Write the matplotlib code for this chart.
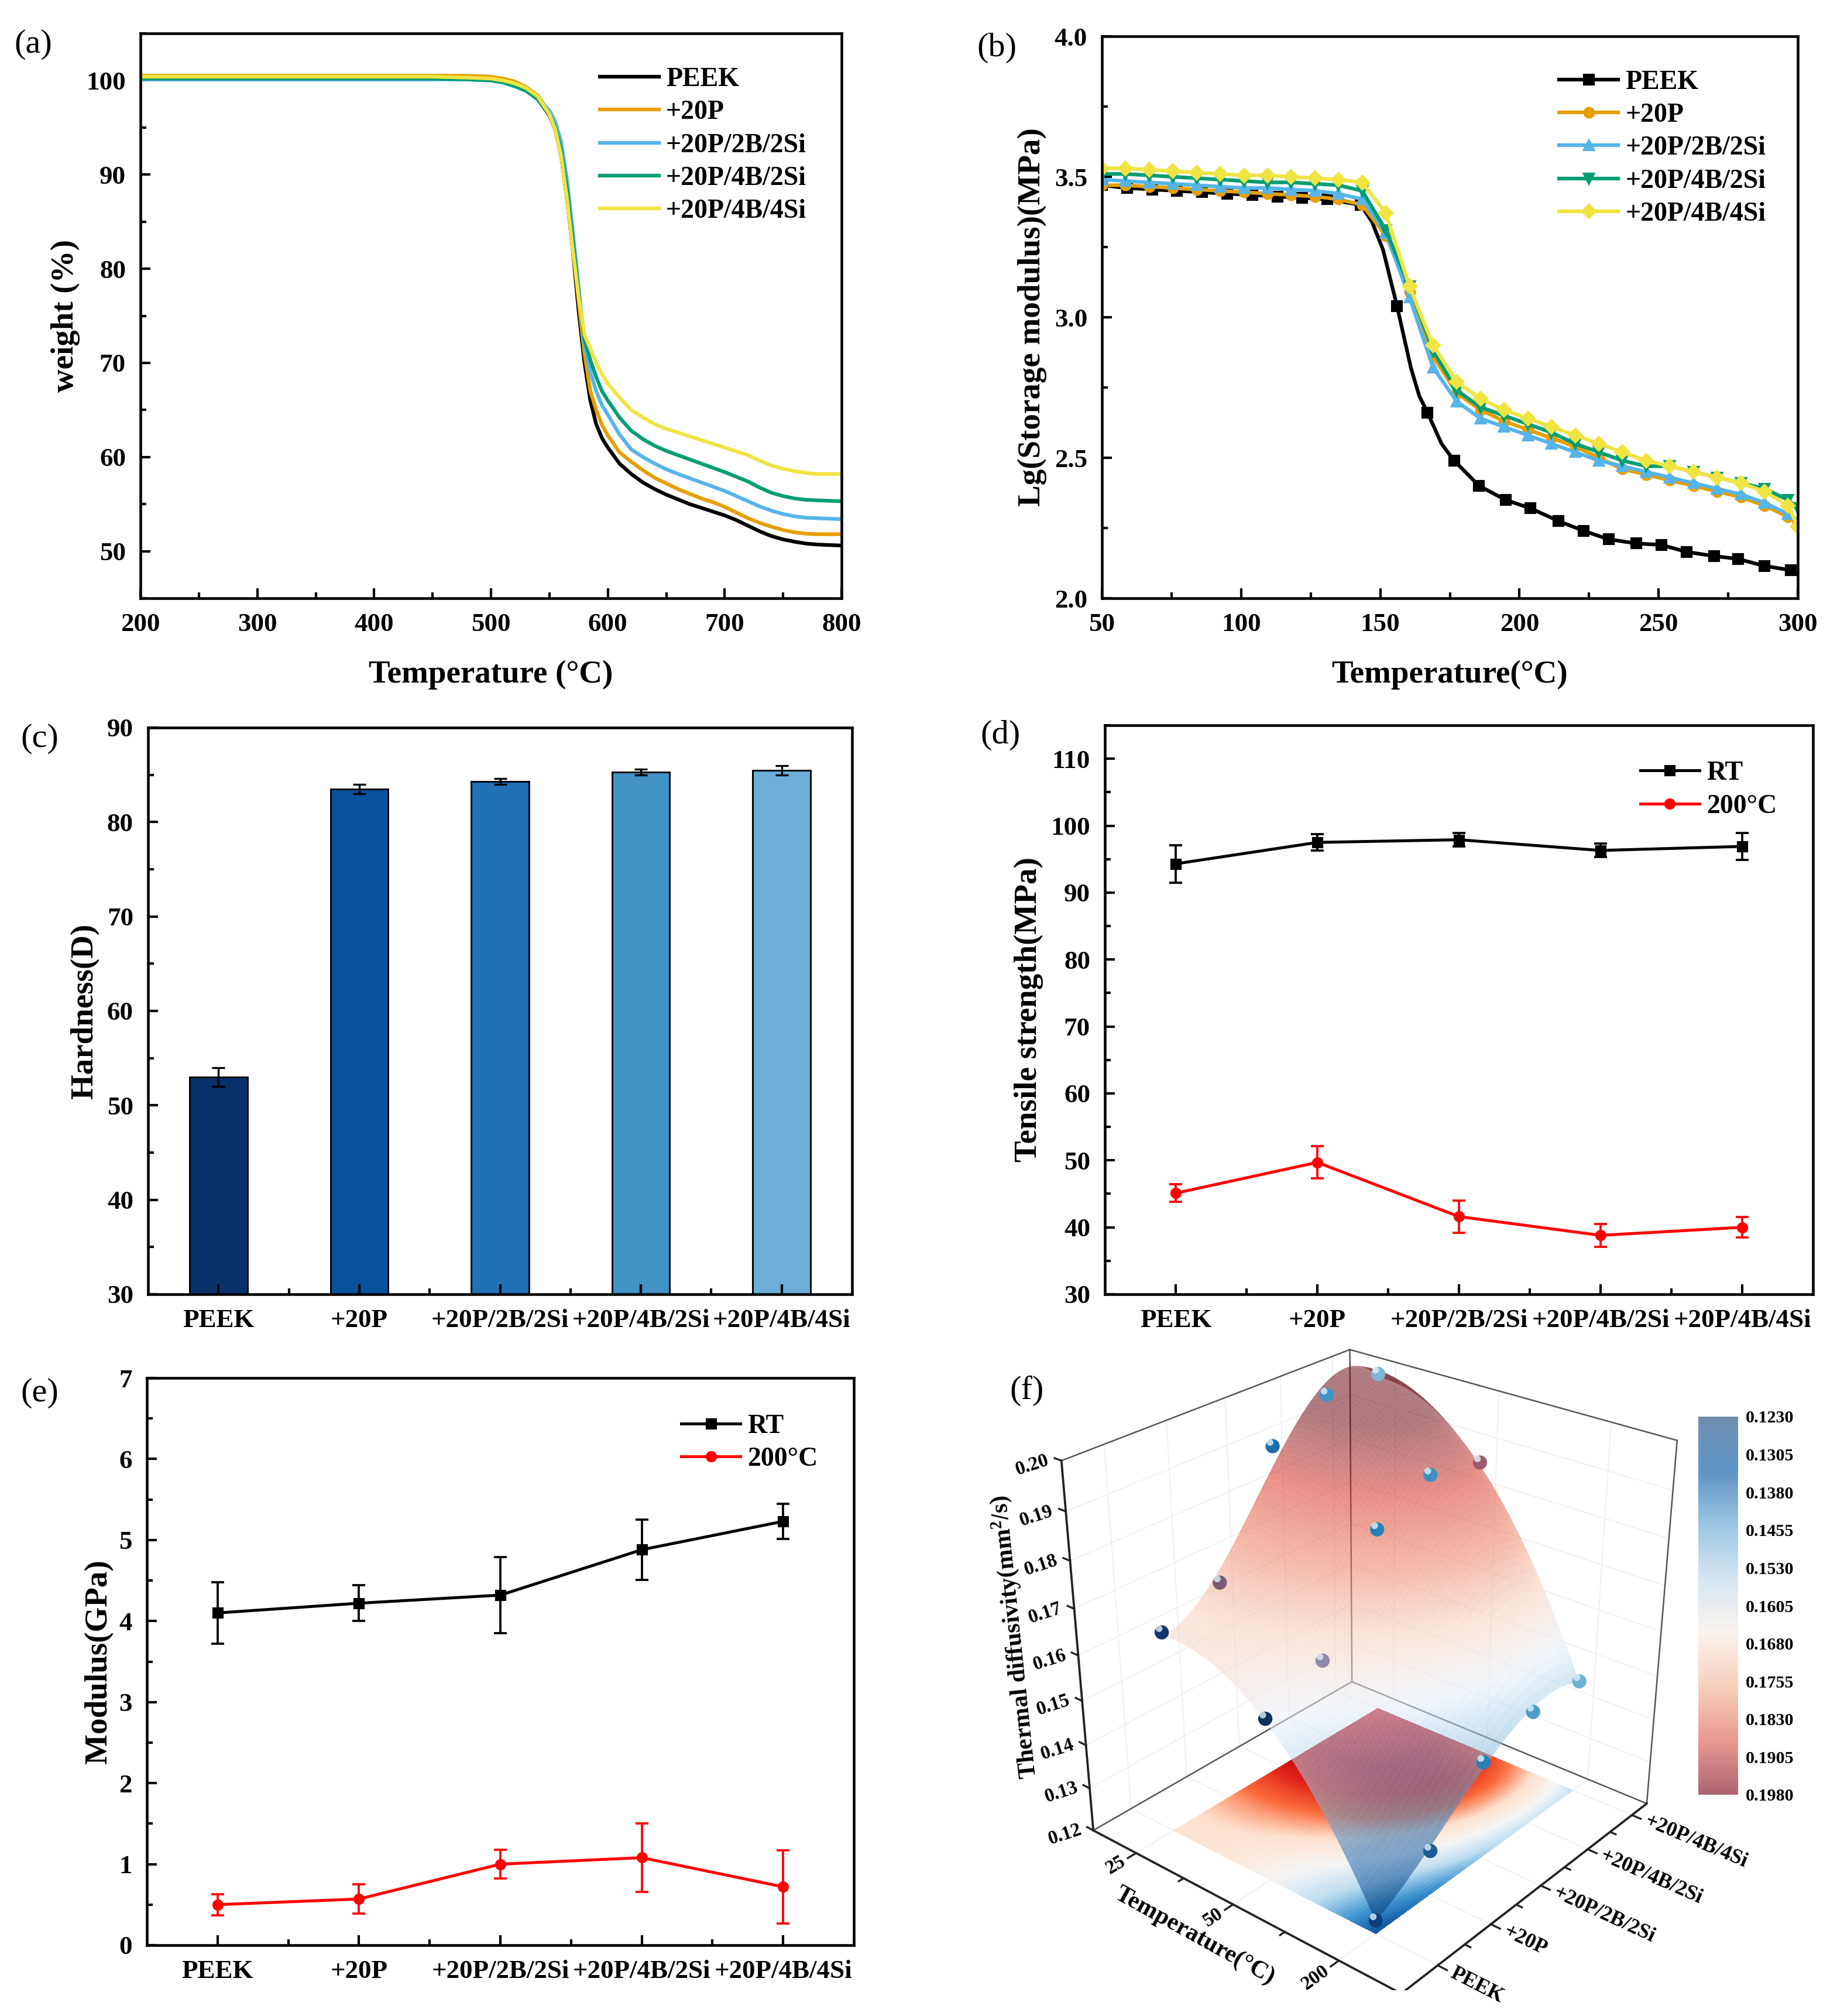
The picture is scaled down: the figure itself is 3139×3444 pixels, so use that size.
import numpy as np
import matplotlib
matplotlib.use('Agg')
import matplotlib.pyplot as plt
from matplotlib.colors import LinearSegmentedColormap
from matplotlib.lines import Line2D
from matplotlib.path import Path
from matplotlib.transforms import Affine2D
from matplotlib.ticker import MultipleLocator, FormatStrFormatter
from mpl_toolkits.mplot3d import proj3d

plt.rcParams['font.family'] = ['Liberation Serif', 'DejaVu Sans']
plt.rcParams['font.weight'] = 'bold'
plt.rcParams['axes.labelweight'] = 'bold'
plt.rcParams['mathtext.fontset'] = 'custom'
plt.rcParams['mathtext.rm'] = 'Liberation Serif:bold'
plt.rcParams['mathtext.default'] = 'rm'

W, H = 3139, 3444
samples = ['PEEK', '+20P', '+20P/2B/2Si', '+20P/4B/2Si', '+20P/4B/4Si']
series_colors = ['#000000', '#E69F00', '#56B4E9', '#009E73', '#F0E442']

# (a) TGA
tga_T = [200, 300, 400, 450, 480, 500, 510, 520, 530, 540, 550, 555, 560, 565, 570, 575, 580, 585, 590, 595, 600, 610,
         620, 630, 640, 650, 660, 670, 680, 690, 700, 710, 720, 730, 740, 750, 760, 770, 780, 790, 800]
tga_peek = [100.3, 100.3, 100.3, 100.3, 100.3, 100.2, 100.0, 99.6, 99.0, 98.0, 96.3, 94.8, 92.0, 87.5, 82.0, 75.5, 70.0, 66.0, 63.5, 62.0, 61.0, 59.3,
            58.2, 57.3, 56.6, 56.0, 55.5, 55.0, 54.6, 54.2, 53.8, 53.3, 52.7, 52.1, 51.6, 51.25, 51.0, 50.8, 50.7, 50.65, 50.6]
tga_20p = [100.5, 100.5, 100.5, 100.5, 100.5, 100.4, 100.2, 99.9, 99.3, 98.4, 96.6, 95.0, 92.3, 88.0, 82.5, 76.5, 71.0, 67.0, 65.0, 63.4, 62.3, 60.5,
           59.5, 58.6, 57.8, 57.2, 56.6, 56.1, 55.6, 55.2, 54.7, 54.1, 53.5, 53.0, 52.6, 52.25, 52.0, 51.85, 51.8, 51.8, 51.8]
tga_2b = [100.1, 100.1, 100.1, 100.1, 100.1, 100.0, 99.8, 99.4, 98.9, 98.1, 96.8, 95.6, 93.5, 89.5, 84.0, 78.0, 72.0, 69.0, 67.0, 65.5, 64.5, 62.4,
          60.8, 60.0, 59.3, 58.7, 58.2, 57.75, 57.3, 56.85, 56.4, 55.85, 55.3, 54.75, 54.3, 53.95, 53.7, 53.55, 53.5, 53.45, 53.4]
tga_4b2 = [100.2, 100.2, 100.2, 100.2, 100.1, 100.0, 99.8, 99.4, 98.9, 98.0, 96.4, 95.0, 92.5, 88.5, 83.0, 77.5, 72.5, 70.3, 68.5, 67.0, 66.0, 64.2,
           62.8, 61.9, 61.2, 60.65, 60.2, 59.75, 59.3, 58.85, 58.4, 57.9, 57.4, 56.75, 56.2, 55.85, 55.6, 55.45, 55.4, 55.35, 55.3]
tga_4b4 = [100.4, 100.4, 100.4, 100.4, 100.3, 100.2, 100.0, 99.7, 99.2, 98.3, 96.4, 94.8, 92.0, 87.5, 82.0, 77.0, 73.0, 71.5, 70.0, 68.8, 67.8, 66.3,
           65.0, 64.2, 63.5, 63.0, 62.6, 62.2, 61.8, 61.4, 61.0, 60.6, 60.2, 59.6, 59.1, 58.75, 58.5, 58.3, 58.2, 58.2, 58.2]

# (b) DMA
dma_T_peek = [50, 59, 68, 77, 86, 95, 104, 113, 122, 131, 143, 147, 151, 156, 161, 164, 167, 172, 176.5, 185.5, 195, 204, 214, 223, 232, 242, 251, 260, 270, 278.5, 288, 297.5, 300]
dma_peek = [3.47, 3.46, 3.455, 3.45, 3.445, 3.44, 3.435, 3.43, 3.425, 3.42, 3.40, 3.34, 3.24, 3.04, 2.82, 2.72, 2.66, 2.55, 2.49, 2.40, 2.35, 2.32, 2.275, 2.24, 2.21, 2.195, 2.19, 2.165, 2.15, 2.14, 2.115, 2.10, 2.085]
dma_peek_marks = [0, 1, 2, 3, 4, 5, 6, 7, 8, 9, 10, 13, 16, 18, 19, 20, 21, 22, 23, 24, 25, 26, 27, 28, 29, 30, 31]
dma_T = [50, 58.5, 67, 75.5, 84, 92.5, 101, 109.5, 118, 126.5, 135, 143.5, 152, 160.5, 169, 177.5, 186, 194.5, 203, 211.5, 220, 228.5, 237, 245.5, 254, 262.5, 271, 279.5, 288, 296.5, 300]
dma_20p = [3.47, 3.47, 3.465, 3.46, 3.455, 3.45, 3.445, 3.44, 3.435, 3.43, 3.42, 3.40, 3.29, 3.09, 2.86, 2.73, 2.67, 2.63, 2.60, 2.57, 2.54, 2.50, 2.46, 2.44, 2.42, 2.40, 2.38, 2.36, 2.33, 2.29, 2.27]
dma_2b = [3.49, 3.485, 3.48, 3.475, 3.47, 3.465, 3.46, 3.46, 3.455, 3.45, 3.44, 3.42, 3.30, 3.07, 2.82, 2.70, 2.64, 2.61, 2.58, 2.55, 2.52, 2.49, 2.47, 2.45, 2.43, 2.41, 2.39, 2.37, 2.34, 2.30, 2.27]
dma_4b2 = [3.51, 3.51, 3.505, 3.50, 3.495, 3.49, 3.485, 3.48, 3.48, 3.475, 3.47, 3.45, 3.31, 3.11, 2.88, 2.74, 2.68, 2.65, 2.62, 2.59, 2.55, 2.52, 2.49, 2.47, 2.47, 2.45, 2.43, 2.41, 2.39, 2.35, 2.32]
dma_4b4 = [3.53, 3.53, 3.525, 3.52, 3.515, 3.51, 3.505, 3.505, 3.50, 3.495, 3.49, 3.48, 3.37, 3.11, 2.90, 2.77, 2.71, 2.67, 2.64, 2.61, 2.58, 2.55, 2.52, 2.49, 2.47, 2.45, 2.43, 2.41, 2.38, 2.33, 2.255]

# (c) Hardness
hardness = [53.0, 83.5, 84.3, 85.3, 85.5]
hardness_err = [1.0, 0.5, 0.3, 0.3, 0.5]
bar_colors = ['#08306b', '#08519c', '#2171b5', '#4292c6', '#6baed6']

# (d) Tensile
ts_rt = [94.3, 97.5, 97.9, 96.3, 96.9]
ts_rt_err = [2.8, 1.2, 1.0, 1.0, 2.0]
ts_200 = [45.1, 49.7, 41.6, 38.8, 40.0]
ts_200_err = [1.3, 2.4, 2.4, 1.7, 1.5]

# (e) Modulus
mod_rt = [4.10, 4.22, 4.32, 4.88, 5.23]
mod_rt_err = [0.38, 0.22, 0.47, 0.37, 0.22]
mod_200 = [0.50, 0.57, 1.00, 1.08, 0.72]
mod_200_err = [0.13, 0.18, 0.18, 0.42, 0.45]

# (f) Thermal diffusivity: rows are temperatures, columns are samples
temp_labels = ['25', '50', '200']
td_25 = [0.165, 0.1695, 0.193, 0.199, 0.199]
td_50 = [0.156, 0.1615, 0.183, 0.189, 0.1865]
td_200 = [0.123, 0.130, 0.142, 0.146, 0.146]
sphere_25 = ['#12386b', '#7d5a78', '#1f6ea8', '#3f94c6', '#7fb6d4']
sphere_50 = ['#0f2f60', '#8f8aa8', '#2a80b8', '#3f90c0', '#9c5a70']
sphere_200 = ['#0f3f80', '#1a5d98', '#2a80b8', '#4f9cc8', '#6fb4d2']
cbar_labels = ['0.1230', '0.1305', '0.1380', '0.1455', '0.1530', '0.1605', '0.1680', '0.1755', '0.1830', '0.1905', '0.1980']
z_ticks = [0.12, 0.13, 0.14, 0.15, 0.16, 0.17, 0.18, 0.19, 0.20]

fig = plt.figure(figsize=(W / 300, H / 300), dpi=300, facecolor='white')
LAB = 13.2


def box(x0, x1, y0, y1):
    return [x0 / W, 1 - y1 / H, (x1 - x0) / W, (y1 - y0) / H]


def style(ax, xmaj, xmin, ymaj, ymin):
    for s in ax.spines.values():
        s.set_linewidth(1.1)
    ax.xaxis.set_major_locator(MultipleLocator(xmaj))
    ax.xaxis.set_minor_locator(MultipleLocator(xmin))
    ax.yaxis.set_major_locator(MultipleLocator(ymaj))
    ax.yaxis.set_minor_locator(MultipleLocator(ymin))
    ax.tick_params(which='major', direction='in', length=4, width=1.0, labelsize=10.8, pad=6)
    ax.tick_params(which='minor', direction='in', length=2.4, width=1.0)


def panel(txt, x, y):
    fig.text(x / W, 1 - y / H, txt, fontsize=14, fontweight='normal', ha='center', va='center')


def legend(ax, x, y, handles=None):
    kw = dict(loc='upper left', bbox_to_anchor=(x, y), frameon=False, fontsize=11, handlelength=2.2,
              handletextpad=0.27, labelspacing=0.31, borderaxespad=0, borderpad=0)
    if handles:
        kw['handles'] = handles
    ax.legend(**kw)


# (a)
ax = fig.add_axes(box(240, 1438, 57, 1022))
for vals, name, c in zip([tga_peek, tga_20p, tga_2b, tga_4b2, tga_4b4], samples, series_colors):
    ax.plot(tga_T, vals, color=c, lw=1.5, label=name)
ax.set_xlim(200, 800)
ax.set_ylim(45, 105)
style(ax, 100, 50, 10, 5)
ax.set_xlabel('Temperature (°C)', fontsize=LAB)
ax.set_ylabel('weight (%)', fontsize=LAB)
ax.xaxis.set_label_coords(0.5, -0.11)
ax.yaxis.set_label_coords(-0.086, 0.5)
legend(ax, 0.655, 0.94)

# (b)
ax = fig.add_axes(box(1883, 3072, 62, 1022))
ax.plot(dma_T_peek, dma_peek, color=series_colors[0], lw=1.5, marker='s', ms=3.8, markevery=dma_peek_marks, label=samples[0])
for vals, name, c, m in zip([dma_20p, dma_2b, dma_4b2, dma_4b4], samples[1:], series_colors[1:], ['o', '^', 'v', 'D']):
    ax.plot(dma_T, vals, color=c, lw=1.5, marker=m, ms=3.8, label=name)
ax.set_xlim(50, 300)
ax.set_ylim(2, 4)
style(ax, 50, 25, 0.5, 0.25)
ax.yaxis.set_major_formatter(FormatStrFormatter('%.1f'))
ax.set_xlabel('Temperature(°C)', fontsize=LAB)
ax.set_ylabel('Lg(Storage modulus)(MPa)', fontsize=LAB)
ax.xaxis.set_label_coords(0.5, -0.11)
ax.yaxis.set_label_coords(-0.079, 0.5)
legend(ax, 0.657, 0.94)


def cat_axis(ax, labels):
    ax.set_xlim(-0.5, 4.5)
    ax.set_xticks(range(5))
    ax.set_xticklabels(labels)
    ax.set_xticks([0.5, 1.5, 2.5, 3.5], minor=True)


def err_lines(ax, y1, e1, y2, e2):
    ax.errorbar(range(5), y1, yerr=e1, color='black', lw=1.2, marker='s', ms=3.6, capsize=2.6, capthick=0.9, elinewidth=0.9)
    ax.errorbar(range(5), y2, yerr=e2, color='red', lw=1.2, marker='o', ms=3.6, capsize=2.6, capthick=0.9, elinewidth=0.9)
    return [Line2D([], [], color='black', lw=1.2, marker='s', ms=3.6, label='RT'),
            Line2D([], [], color='red', lw=1.2, marker='o', ms=3.6, label='200°C')]


# (c)
ax = fig.add_axes(box(253, 1456, 1243, 2211))
ax.bar(range(5), hardness, width=0.41, color=bar_colors, edgecolor='black', linewidth=0.7,
       yerr=hardness_err, error_kw=dict(ecolor='black', elinewidth=0.8, capsize=2.6, capthick=0.8))
ax.set_ylim(30, 90)
style(ax, 1, 0.5, 10, 5)
cat_axis(ax, samples)
ax.set_ylabel('Hardness(D)', fontsize=LAB)
ax.yaxis.set_label_coords(-0.069, 0.5)

# (d)
ax = fig.add_axes(box(1888, 3098, 1239, 2211))
hs = err_lines(ax, ts_rt, ts_rt_err, ts_200, ts_200_err)
ax.set_ylim(30, 115)
style(ax, 1, 0.5, 10, 5)
cat_axis(ax, samples)
ax.set_ylabel('Tensile strength(MPa)', fontsize=LAB)
ax.yaxis.set_label_coords(-0.087, 0.5)
legend(ax, 0.756, 0.937, hs)

# (e)
ax = fig.add_axes(box(251, 1459, 2354, 3323))
hs = err_lines(ax, mod_rt, mod_rt_err, mod_200, mod_200_err)
ax.set_ylim(0, 7)
style(ax, 1, 0.5, 1, 0.5)
cat_axis(ax, samples)
ax.set_ylabel('Modulus(GPa)', fontsize=LAB)
ax.yaxis.set_label_coords(-0.047, 0.5)
legend(ax, 0.756, 0.936, hs)

# (f)
surf_cmap = LinearSegmentedColormap.from_list('surf', ['#00336f', '#1f6ab0', '#8fc0e0', '#e8f0f8', '#f7d0bb', '#ec7f5f', '#d83123', '#6a0a14'])
base_cmap = LinearSegmentedColormap.from_list('base', ['#0a4f9e', '#3f95d0', '#bcdcf0', '#f5f5f5', '#fde0cc', '#fb6a3a', '#e02018', '#b00010'])
z_lo, z_hi = 0.123, 0.198

td = np.array([td_25, td_50, td_200])
ti, ci = np.meshgrid(np.arange(3), np.arange(5), indexing='ij')
# least-squares polynomial surface fitted through the read values, as the source's fitted surface
powers = [(a, b) for a in range(3) for b in range(4)]
design = np.stack([ti.ravel().astype(float) ** a * ci.ravel().astype(float) ** b for a, b in powers], axis=1)
coef = np.linalg.lstsq(design, td.ravel(), rcond=None)[0]
gx, gy = np.meshgrid(np.linspace(0, 2, 60), np.linspace(0, 4, 80), indexing='ij')
gz = sum(c * gx ** a * gy ** b for c, (a, b) in zip(coef, powers))
norm = matplotlib.colors.Normalize(z_lo, z_hi)

a3 = fig.add_axes(box(1651, 3011, 2246, 3400), projection='3d', computed_zorder=False)
a3.patch.set_alpha(0)
a3.set_axis_off()
xb0, xb1 = -0.47, 2.55
yb0, yb1 = -0.65, 4.35
zb0, zb1 = 0.12, 0.20
a3.set_xlim(xb0, xb1)
a3.set_ylim(yb0, yb1)
a3.set_zlim(zb0, zb1)
a3.view_init(elev=28, azim=-50)
a3.set_proj_type('persp', focal_length=0.5)
a3.set_box_aspect((1, 1, 1.0), zoom=1.03)

frame = dict(color='#555555', lw=0.6, zorder=1)
dark = dict(color='#222222', lw=0.9, zorder=1)
a3.plot([xb0, xb0], [yb0, yb0], [zb0, zb1], **dark)
a3.plot([xb0, xb0], [yb1, yb1], [zb0, zb1], **frame)
a3.plot([xb1, xb1], [yb1, yb1], [zb0, zb1], **frame)
a3.plot([xb0, xb0], [yb0, yb1], [zb1, zb1], **frame)
a3.plot([xb0, xb1], [yb1, yb1], [zb1, zb1], **frame)
a3.plot([xb0, xb0], [yb0, yb1], [zb0, zb0], **frame)
a3.plot([xb0, xb1], [yb1, yb1], [zb0, zb0], **frame)
a3.plot([xb0, xb1], [yb0, yb0], [zb0, zb0], **dark)
a3.plot([xb1, xb1], [yb0, yb1], [zb0, zb0], **dark)
faint = dict(color='#eeeeee', lw=0.4, zorder=0.5)
for zt in z_ticks[1:-1]:
    a3.plot([xb0, xb0], [yb0, yb1], [zt, zt], **faint)
    a3.plot([xb0, xb1], [yb1, yb1], [zt, zt], **faint)
for xt in range(3):
    a3.plot([xt, xt], [yb1, yb1], [zb0, zb1], **faint)
    a3.plot([xt, xt], [yb0, yb1], [zb0, zb0], **faint)
for yt in range(5):
    a3.plot([xb0, xb0], [yt, yt], [zb0, zb1], **faint)
    a3.plot([xb0, xb1], [yt, yt], [zb0, zb0], **faint)

tk = dict(color='#222222', lw=0.8, zorder=1)
for zt in z_ticks:
    a3.plot([xb0, xb0 - 0.07], [yb0, yb0], [zt, zt], **tk)
for i in range(3):
    a3.plot([i, i], [yb0, yb0 - 0.14], [zb0, zb0], **tk)
for xm in [0.5, 1.5]:
    a3.plot([xm, xm], [yb0, yb0 - 0.08], [zb0, zb0], **tk)
for i in range(5):
    a3.plot([xb1, xb1 + 0.08], [i, i], [zb0, zb0], **tk)
for ym in [0.5, 1.5, 2.5, 3.5]:
    a3.plot([xb1, xb1 + 0.05], [ym, ym], [zb0, zb0], **tk)

a3.plot_surface(gx, gy, np.full_like(gx, zb0), facecolors=base_cmap(norm(gz)), rstride=1, cstride=1,
                linewidth=0, edgecolor='none', antialiased=False, shade=False, zorder=2)
surf_cols = surf_cmap(norm(gz))
surf_cols[..., 3] = 0.55
a3.plot_surface(gx, gy, gz, facecolors=surf_cols, rstride=1, cstride=1, linewidth=0, edgecolor='none', antialiased=True, shade=False, zorder=3)
shine = Path.unit_circle().transformed(Affine2D().scale(0.2).translate(-0.15, 0.22))
for row, vals, cols in zip(range(3), [td_25, td_50, td_200], [sphere_25, sphere_50, sphere_200]):
    a3.scatter([row] * 5, range(5), vals, s=34, c=cols, depthshade=False, edgecolors='none', zorder=4)
    a3.scatter([row] * 5, range(5), vals, s=34, c='#dff0fa', alpha=0.8, marker=shine, depthshade=False, edgecolors='none', zorder=5)

fig.canvas.draw()
proj_m = a3.get_proj()


def to_disp(x, y, z):
    px, py, _ = proj3d.proj_transform(x, y, z, proj_m)
    return a3.transData.transform((px, py))


def label3d(x, y, z, txt, d, size, ha='center', va='center', angle=None):
    """Write a text at a box position, turned along the projected direction d of the box."""
    p0 = to_disp(x, y, z)
    p1 = to_disp(x + d[0], y + d[1], z + d[2])
    ang = np.degrees(np.arctan2(p1[1] - p0[1], p1[0] - p0[0])) if angle is None else angle
    fig.text(p0[0] / fig.bbox.width, p0[1] / fig.bbox.height, txt, fontsize=size, rotation=ang,
             rotation_mode='anchor', ha=ha, va=va)


for zt in z_ticks:
    label3d(xb0 - 0.08, yb0 - 0.08, zt, f'{zt:.2f}', (0, 1, 0), 8, ha='right', angle=18)
for i, lab in enumerate(temp_labels):
    label3d(i, yb0 - 0.2, zb0, lab, (0, 1, 0), 8, ha='right')
for i, lab in enumerate(samples):
    label3d(xb1 + 0.12, i, zb0, lab, (1, 0, 0), 8.6, ha='left')
label3d(xb0 - 0.4, yb0 - 0.4, 0.163, 'Thermal diffusivity(mm$^{2}$/s)', (0, 0, 0.01), 10)
label3d(1.05, yb0 - 0.72, zb0, 'Temperature(°C)', (1, 0, 0), 10)

cax = fig.add_axes(box(2902, 2970, 2420, 3066))
grad = np.linspace(0, 1, 256)[:, None]
cax.imshow(grad, aspect='auto', cmap=LinearSegmentedColormap.from_list('cb', ['#6f8fb0', '#5f94c4', '#9cc6e2', '#d6e6f2', '#fbf4ef', '#f7d0bc', '#ea9a90', '#ad6373']), extent=[0, 1, 1, 0])
cax.set_xticks([])
cax.yaxis.tick_right()
cax.set_yticks(np.arange(11) / 10)
cax.set_yticklabels(cbar_labels, fontsize=7.2)
cax.tick_params(axis='y', length=0, pad=3)
for s in cax.spines.values():
    s.set_visible(False)

panel('(a)', 57, 76)
panel('(b)', 1703, 82)
panel('(c)', 68, 1262)
panel('(d)', 1709, 1256)
panel('(e)', 68, 2380)
panel('(f)', 1755, 2376)

fig.savefig('out.png', dpi=300)
